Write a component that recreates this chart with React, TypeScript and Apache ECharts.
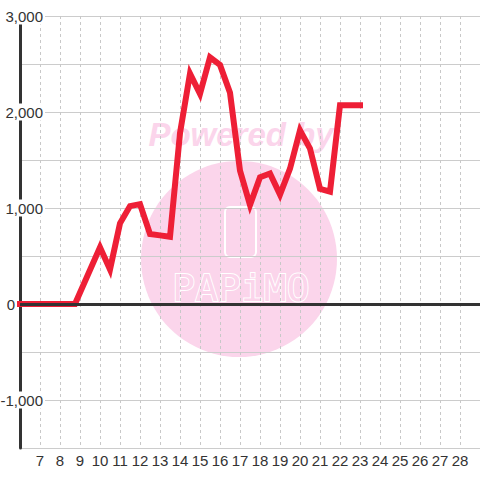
import React, { useEffect, useRef } from "react";
import * as echarts from "echarts";

const hours = [6, 6.5, 7, 7.5, 8, 8.5, 8.75, 10, 10.5, 11, 11.5, 12, 12.5, 13, 13.5, 14, 14.5, 15, 15.5, 16, 16.5, 17, 17.5, 18, 18.5, 19, 19.5, 20, 20.5, 21, 21.5, 22, 22.5, 23];
const values = [0, 0, 0, 0, 0, 0, 0, 590, 360, 840, 1020, 1040, 730, 715, 700, 1780, 2400, 2190, 2570, 2490, 2200, 1390, 1030, 1320, 1360, 1140, 1410, 1810, 1620, 1200, 1170, 2070, 2070, 2070];
const xMin = 6;
const xMax = 29;
const yMin = -1500;
const yMax = 3000;
const zeroLineValue = 0;
const watermarkTop = "Powered by";
const watermarkBrand = "PAPiMO";

const FONT = "Liberation Sans, Arial, sans-serif";
const PINK = "#fbd5eb";

export default function App() {
  const ref = useRef<HTMLDivElement>(null);
  useEffect(() => {
    if (!ref.current) return;
    const chart = echarts.init(ref.current, undefined, { renderer: "svg" });
    const data = hours.map((h, i) => [h, values[i]]);
    chart.setOption({
      animation: false,
      grid: { left: 20, right: 0, top: 16, bottom: 32, containLabel: false, outerBoundsMode: "none" },
      graphic: [
        { type: "circle", z: -1, shape: { cx: 239, cy: 259, r: 98 }, style: { fill: PINK } },
        {
          type: "text", z: -1, x: 241, y: 134,
          style: { text: watermarkTop, fill: PINK, font: `italic bold 33px ${FONT}`, align: "center", verticalAlign: "middle" },
        },
        {
          type: "rect", z: -1, shape: { x: 225, y: 207, width: 31, height: 50, r: 5 },
          style: { fill: "none", stroke: "#fff", lineWidth: 2 },
        },
        {
          type: "text", z: -1, x: 241, y: 288,
          style: { text: watermarkBrand, fill: PINK, stroke: "#fff", lineWidth: 2, font: `38px DejaVu Sans Mono, monospace`, align: "center", verticalAlign: "middle" },
        },
      ],
      xAxis: {
        type: "value", min: xMin, max: xMax, interval: 1,
        axisLine: { show: false, onZero: false },
        axisTick: { show: false },
        minorTick: { show: false },
        minorSplitLine: { show: false },
        axisLabel: { showMinLabel: false, showMaxLabel: false, fontSize: 15, color: "#333", fontFamily: FONT, margin: 5 },
        splitLine: { show: true, lineStyle: { color: "#c8c8c8", width: 1, type: [3, 3] } },
      },
      yAxis: {
        type: "value", min: yMin, max: yMax, interval: 500,
        axisLine: { show: true, onZero: false, lineStyle: { color: "#333", width: 3 } },
        axisTick: { show: false },
        splitLine: { show: true, lineStyle: { color: "#ccc", width: 1 } },
        axisLabel: {
          margin: -25,
          align: "right",
          formatter: (v: number) => {
            if (v % 1000 !== 0) return "";
            if (v === 0) return "{z|0}";
            return "{b|" + v.toLocaleString("en-US") + "}";
          },
          rich: {
            b: { backgroundColor: "#fff", padding: [1, 2, 1, 2], fontSize: 15, color: "#333", fontFamily: FONT },
            z: { padding: [0, 30, 0, 0], fontSize: 15, color: "#333", fontFamily: FONT },
          },
        },
      },
      series: [
        {
          type: "line", data: [], z: 1, silent: true,
          markLine: {
            silent: true, symbol: "none", label: { show: false },
            lineStyle: { color: "#333", width: 3, type: "solid" },
            data: [{ yAxis: zeroLineValue }],
          },
        },
        {
          type: "line", data, showSymbol: false, symbol: "none",
          lineStyle: { color: "#ee1f36", width: 6, cap: "square", join: "miter" },
          z: 3,
        },
      ],
    });
    return () => chart.dispose();
  }, []);
  return <div ref={ref} style={{ position: "fixed", left: 0, top: 0, width: 480, height: 480, background: "#fff" }} />;
}
